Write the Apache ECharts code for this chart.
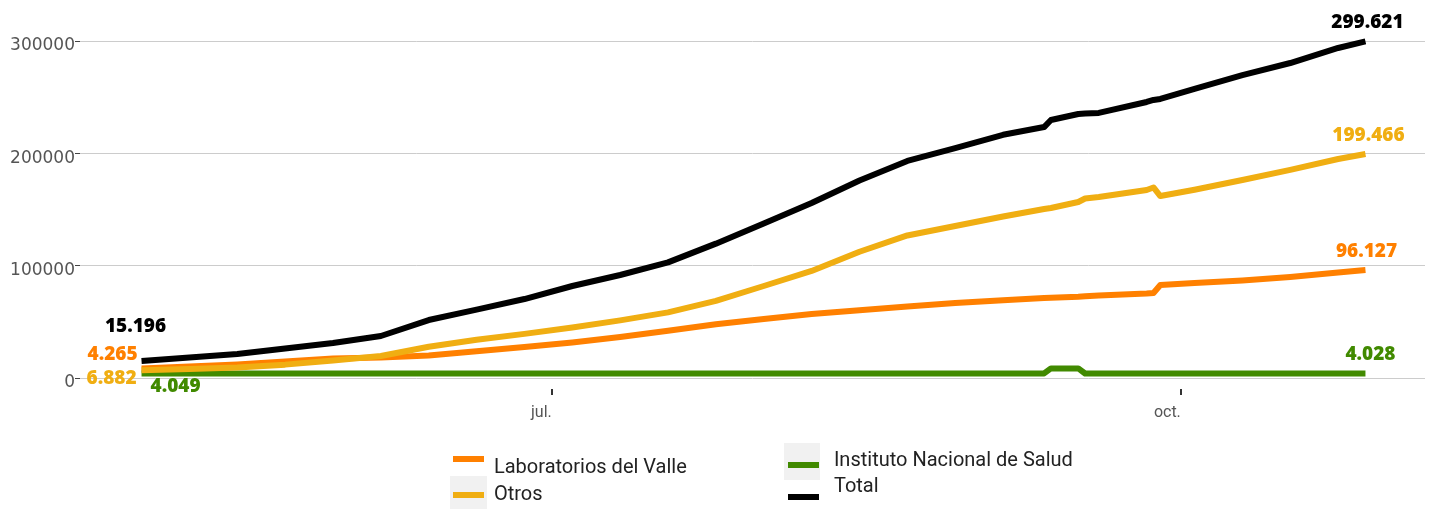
<!DOCTYPE html>
<html>
<head>
<meta charset="utf-8">
<script src="https://cdn.jsdelivr.net/npm/echarts@6/dist/echarts.min.js"></script>
<style>
  html, body { margin: 0; padding: 0; background: #fff; }
  #main { width: 1434px; height: 509px; }
</style>
</head>
<body>
<div id="main"></div>
<script>
// fechas de muestreo
var dates = ['2020-05-02', '2020-05-09', '2020-05-16', '2020-05-23', '2020-05-30', '2020-06-06',
  '2020-06-13', '2020-06-20', '2020-06-27', '2020-07-04', '2020-07-11', '2020-07-18', '2020-07-25',
  '2020-08-01', '2020-08-08', '2020-08-15', '2020-08-22', '2020-08-29', '2020-09-05', '2020-09-11',
  '2020-09-12', '2020-09-16', '2020-09-17', '2020-09-19', '2020-09-26', '2020-09-27', '2020-09-28',
  '2020-10-03', '2020-10-10', '2020-10-17', '2020-10-24', '2020-10-28'];

var labValle = [8500, 10200, 12000, 14700, 17400, 18200, 20000, 23800, 27600, 31700, 36500, 42100,
  47900, 52500, 57000, 60400, 63600, 66800, 69300, 71200, 71400, 72300, 72700, 73400, 75200, 75700,
  82800, 84600, 86800, 89900, 93900, 96127];

var ins = [4049, 4049, 4049, 4049, 4049, 4049, 4049, 4049, 4049, 4049, 4049, 4049, 4049, 4049, 4049,
  4049, 4049, 4049, 4049, 4049, 8500, 8500, 4030, 4030, 4030, 4030, 4030, 4030, 4030, 4028, 4028, 4028];

var otros = [6882, 8000, 9300, 11900, 15500, 19600, 27800, 34000, 39300, 45000, 51300, 58400, 68700,
  81900, 95300, 112400, 126900, 135300, 143800, 150400, 151300, 156700, 159800, 161100, 167400,
  169600, 162000, 167600, 176300, 185300, 195000, 199466];

var total = [15196, 18249, 21400, 26300, 31200, 37400, 51600, 60900, 70300, 81900, 91700, 102900,
  119600, 137500, 155800, 175800, 193200, 204700, 216500, 223400, 229700, 235000, 235500, 236000,
  245700, 247500, 248400, 257400, 269700, 280400, 293800, 299621];

var seriesNames = ['Laboratorios del Valle', 'Instituto Nacional de Salud', 'Otros', 'Total'];
var seriesColors = ['#ff8000', '#418a00', '#f0ae12', '#000000'];
var startText = ['4.265', '4.049', '6.882', '15.196'];
var endText = ['96.127', '4.028', '199.466', '299.621'];
var monthTicks = [['2020-07-01', 'jul.'], ['2020-10-01', 'oct.']];

function ts (s) {
  var p = s.split('-');
  return Date.UTC(+p[0], +p[1] - 1, +p[2]);
}

var labelFont = { fontFamily: 'Open Sans', fontWeight: 800, fontSize: 19 };
// etiquetas del inicio y del final de cada serie
var startLabel = [
  { position: 'left', distance: 4, offset: [0, -14] },
  { position: 'bottom', distance: 4, offset: [34, 0] },
  { position: 'left', distance: 5, offset: [0, 8] },
  { position: 'top', distance: 25, offset: [-6, 0] }
];
var endLabel = [
  { offset: [1, 0] },
  { offset: [5, 0] },
  { offset: [3, 0] },
  { offset: [2, 0] }
];

function buildSeries (i, vals) {
  var data = [];
  for (var k = 0; k < dates.length; k++) {
    var item = { value: [ts(dates[k]), vals[k]] };
    if (k === 0) {
      item.label = Object.assign({ show: true, color: seriesColors[i], formatter: startText[i] }, labelFont, startLabel[i]);
    } else if (k === dates.length - 1) {
      item.label = Object.assign({ show: true, color: seriesColors[i], formatter: endText[i], position: 'top', distance: 9 }, labelFont, endLabel[i]);
    }
    data.push(item);
  }
  return {
    name: seriesNames[i],
    type: 'line',
    data: data,
    showSymbol: true,
    symbol: 'circle',
    symbolSize: 0,
    lineStyle: { width: 6, color: seriesColors[i], join: 'round' },
    itemStyle: { color: seriesColors[i] },
    emphasis: { disabled: true }
  };
}

var tickValues = monthTicks.map(function (m) { return ts(m[0]); });

// una leyenda por serie; el salto de linea desplaza el texto respecto al icono
function legendItem (name, left, top, fmt, lh) {
  return {
    data: [name],
    left: left,
    top: top,
    padding: 0,
    icon: 'rect',
    itemWidth: 31,
    itemHeight: 6,
    selectedMode: false,
    formatter: fmt,
    textStyle: { fontFamily: 'Roboto', fontSize: 20, lineHeight: lh, color: '#222' }
  };
}

var option = {
  animation: false,
  grid: { left: 80, right: 9, top: 41, bottom: 131 },
  graphic: [
    { type: 'rect', shape: { x: 450, y: 476, width: 37, height: 33 }, style: { fill: '#f1f1f1' }, z: 0 },
    { type: 'rect', shape: { x: 784, y: 443, width: 36, height: 37 }, style: { fill: '#f1f1f1' }, z: 0 }
  ],
  legend: [
    legendItem('Laboratorios del Valle', 453, 440, '\n {name}', 18),
    legendItem('Otros', 453, 484, ' {name}', 22),
    legendItem('Instituto Nacional de Salud', 788, 451, '  {name}\n', 8),
    legendItem('Total', 788, 477, '  {name}\n', 20)
  ],
  xAxis: {
    type: 'value',
    min: ts('2020-04-23'),
    max: ts('2020-11-05') + 17 * 3600000,
    scale: true,
    axisLine: { show: false },
    splitLine: { show: false },
    axisTick: {
      show: true,
      customValues: tickValues,
      length: 17,
      lineStyle: { color: '#333', width: 2, type: [0, 11, 6, 40] }
    },
    axisLabel: {
      customValues: tickValues,
      align: 'right',
      margin: 27,
      color: '#555',
      fontFamily: 'Roboto',
      fontSize: 16,
      formatter: function (val) {
        for (var i = 0; i < monthTicks.length; i++) {
          if (Math.abs(tickValues[i] - val) < 3600000) return monthTicks[i][1];
        }
        return '';
      }
    }
  },
  yAxis: {
    type: 'value',
    min: 0,
    max: 300000,
    interval: 100000,
    axisLine: { show: false },
    axisTick: { show: true, length: 5, lineStyle: { color: '#444' } },
    splitLine: { lineStyle: { color: '#cccccc' } },
    axisLabel: {
      margin: 5,
      color: '#555',
      fontFamily: 'DejaVu Sans',
      fontSize: 17,
      lineHeight: 10,
      formatter: function (v) { return '\n' + v; }
    }
  },
  series: [
    buildSeries(0, labValle),
    buildSeries(1, ins),
    buildSeries(2, otros),
    buildSeries(3, total)
  ]
};

var myChart = echarts.init(document.getElementById('main'));
myChart.setOption(option);
</script>
</body>
</html>
